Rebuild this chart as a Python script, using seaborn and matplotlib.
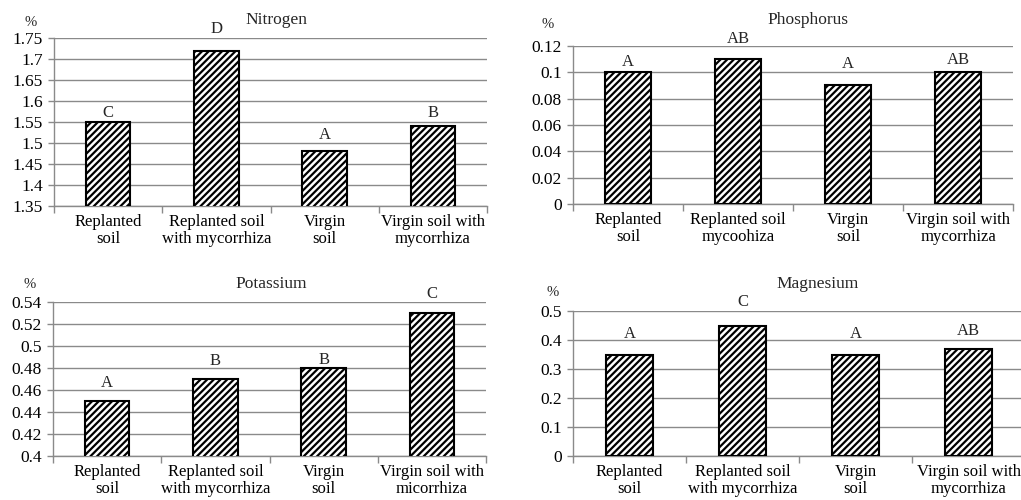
import numpy as np
import pandas as pd
import matplotlib
matplotlib.use('Agg')
import matplotlib.pyplot as plt
import seaborn as sns
from matplotlib.ticker import FuncFormatter, FixedLocator

sns.set_theme(style='white')
plt.rcParams['font.family'] = ['Liberation Serif', 'DejaVu Serif']
plt.rcParams['hatch.linewidth'] = 1.6

# data
cats_nitrogen = ['Replanted\nsoil', 'Replanted soil\nwith mycorrhiza', 'Virgin\nsoil', 'Virgin soil with\nmycorrhiza']
cats_phosphorus = ['Replanted\nsoil', 'Replanted soil\nmycoohiza', 'Virgin\nsoil', 'Virgin soil with\nmycorrhiza']
cats_potassium = ['Replanted\nsoil', 'Replanted soil\nwith mycorrhiza', 'Virgin\nsoil', 'Virgin soil with\nmicorrhiza']
cats_magnesium = ['Replanted\nsoil', 'Replanted soil\nwith mycorrhiza', 'Virgin\nsoil', 'Virgin soil with\nmycorrhiza']

nitrogen = [1.55, 1.72, 1.48, 1.54]
phosphorus = [0.10, 0.11, 0.09, 0.10]
potassium = [0.45, 0.47, 0.48, 0.53]
magnesium = [0.35, 0.45, 0.35, 0.37]

letters_nitrogen = ['C', 'D', 'A', 'B']
letters_phosphorus = ['A', 'AB', 'A', 'AB']
letters_potassium = ['A', 'B', 'B', 'C']
letters_magnesium = ['A', 'C', 'A', 'AB']

# layout (pixels): left, top, right, bottom of plot area; letter offsets above bars
W, H = 1021, 500
panels = [
    dict(title='Nitrogen', cats=cats_nitrogen, vals=nitrogen, letters=letters_nitrogen,
         box=(54, 38, 487, 206), ylim=(1.35, 1.75), step=0.05,
         off=[1, 14, 8, 5], title_xy=(276, 20), pct_xy=(31, 23)),
    dict(title='Phosphorus', cats=cats_phosphorus, vals=phosphorus, letters=letters_phosphorus,
         box=(573, 46, 1013, 204), ylim=(0, 0.12), step=0.02,
         off=[2, 12, 13, 4], title_xy=(808, 20), pct_xy=(548, 25)),
    dict(title='Potassium', cats=cats_potassium, vals=potassium, letters=letters_potassium,
         box=(53, 302, 486, 456), ylim=(0.4, 0.54), step=0.02,
         off=[10, 10, 0, 11], title_xy=(271, 284), pct_xy=(30, 284)),
    dict(title='Magnesium', cats=cats_magnesium, vals=magnesium, letters=letters_magnesium,
         box=(573, 311, 1025, 456), ylim=(0, 0.5), step=0.1,
         off=[13, 16, 13, 10], title_xy=(818, 284), pct_xy=(553, 292)),
]

fig = plt.figure(figsize=(W / 100, H / 100), dpi=100)
grid_color = '#8a8a8a'

for p in panels:
    l, t, r, b = p['box']
    ax = fig.add_axes([l / W, 1 - b / H, (r - l) / W, (b - t) / H])
    df = pd.DataFrame({'cat': p['cats'], 'val': p['vals']})
    sns.barplot(data=df, x='cat', y='val', ax=ax, color='white', saturation=1,
                edgecolor='black', linewidth=1.5, width=0.41, hatch='/////', zorder=3)
    lo, hi = p['ylim']
    ax.set_ylim(lo, hi)
    ax.set_xlim(-0.5, 3.5)
    ticks = np.round(np.arange(lo, hi + p['step'] / 2, p['step']), 4)
    ax.yaxis.set_major_locator(FixedLocator(ticks))
    ax.yaxis.set_major_formatter(FuncFormatter(lambda v, pos: f'{round(v, 4):g}'))
    ax.grid(axis='y', color=grid_color, linewidth=1, zorder=0)
    ax.set_axisbelow(True)
    for s in ['top', 'right']:
        ax.spines[s].set_visible(False)
    for s in ['bottom', 'left']:
        ax.spines[s].set_color(grid_color)
        ax.spines[s].set_linewidth(1)
    ax.tick_params(axis='y', length=4, width=1, color=grid_color, pad=4,
                   labelsize=12.5, labelcolor='black', left=True)
    ax.tick_params(axis='x', which='major', length=0, pad=6, labelsize=12, labelcolor='black')
    ax.set_xticks(np.arange(-0.5, 4, 1), minor=True)
    ax.tick_params(axis='x', which='minor', length=5, color=grid_color, width=1, bottom=True)
    for lab in ax.get_xticklabels():
        lab.set_linespacing(1.05)
    ax.set_xlabel('')
    ax.set_ylabel('')
    for i, (v, letter) in enumerate(zip(p['vals'], p['letters'])):
        ax.annotate(letter, (i, v), xytext=(0, p['off'][i] * 0.72), textcoords='offset points',
                    ha='center', va='bottom', fontsize=12, annotation_clip=False)
    tx, ty = p['title_xy']
    fig.text(tx / W, 1 - ty / H, p['title'], ha='center', va='center', fontsize=12.5)
    px, py = p['pct_xy']
    fig.text(px / W, 1 - py / H, '%', ha='center', va='center', fontsize=10.5)

fig.savefig('out.png', dpi=100)
